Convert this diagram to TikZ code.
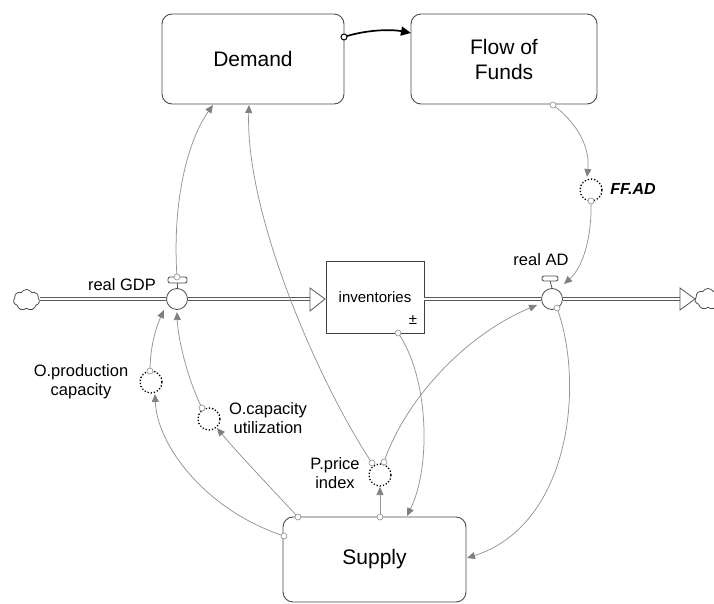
\documentclass[tikz,border=0pt]{standalone}
\usepackage{fontspec}
\setmainfont{Liberation Sans}
\usetikzlibrary{arrows.meta,shapes.symbols}

\begin{document}
\begin{tikzpicture}[x=1pt,y=-1pt,
  sector/.style={draw=black!70, line width=0.9pt, rounded corners=10pt, fill=white,
    align=center, inner sep=0pt, font=\fontsize{21}{25}\selectfont},
  stock/.style={draw=black!75, line width=0.9pt, fill=white, inner sep=0pt,
    font=\fontsize{15}{18}\selectfont},
  aux/.style={circle, draw=black, line width=1.3pt, dash pattern=on 1.3pt off 1.9pt,
    minimum size=22pt, inner sep=0pt},
  valve/.style={circle, draw=black!70, line width=0.8pt, fill=white,
    minimum size=21pt, inner sep=0pt},
  handle/.style={draw=black!70, line width=0.8pt, fill=white, rounded corners=2pt},
  pipe/.style={draw=black!65, line width=0.8pt, double=white, double distance=2.6pt},
  flowtip/.style={draw=black!65, line width=0.8pt, fill=white, line join=miter},
  sink/.style={cloud, cloud puffs=7, cloud puff arc=120, draw=black!70, line width=0.8pt,
    fill=white, minimum width=26pt, minimum height=21pt, inner sep=0pt},
  conn/.style={draw=black!42, line width=0.75pt,
    -{Triangle[length=8pt,width=7pt,color=black!50,fill=black!50]}},
  port/.style={circle, draw=black!45, line width=0.6pt, fill=white,
    minimum size=6pt, inner sep=0pt},
  lbl/.style={align=center, inner sep=0pt, font=\fontsize{16.5}{19}\selectfont},
  mainlink/.style={draw=black, line width=1.7pt,
    -{Triangle[length=10pt,width=9pt]}}
]
\useasboundingbox (0,0) rectangle (714,604);

% ---------- sector boxes ----------
\node[sector, minimum width=182pt, minimum height=90pt] (demand) at (253,59) {Demand};
\node[sector, minimum width=186pt, minimum height=90pt] (funds) at (504,59) {Flow of\\Funds};
\node[sector, minimum width=183pt, minimum height=85pt] (supply) at (374.5,559.5) {Supply};

% ---------- stock and flows ----------
\node[sink] (srcL) at (26.5,300) {};
\node[sink] (sinkR) at (708,299) {};
\node[valve] (vgdp) at (177,299) {};
\node[valve] (vad) at (552,299) {};
\node[stock, minimum width=98pt, minimum height=72pt] (inv) at (375,297) {inventories};
\node[font=\fontsize{15}{16}\selectfont, inner sep=0pt] (pm) at (413,320) {±};

\coordinate (tipA) at (325,299);
\coordinate (tipB) at (695,299);
\coordinate (baseA) at (310,299);
\coordinate (baseB) at (680,299);

\draw[pipe] (srcL.east |- vgdp.west) -- (vgdp.west);
\draw[pipe] (vgdp.east) -- (baseA);
\draw[pipe] (inv.east |- vad.west) -- (vad.west);
\draw[pipe] (vad.east) -- (baseB);
\draw[flowtip] (310,288) -- (tipA) -- (310,311) -- cycle;
\draw[flowtip] (680,288) -- (tipB) -- (680,310) -- cycle;

% valve handles
\coordinate (hgdp) at (177,277);
\coordinate (had) at (550,276);
\draw[draw=black!70, line width=0.8pt] (vgdp.north) -- (177,283);
\draw[handle] (168,277) rectangle (187,283);
\draw[draw=black!70, line width=0.8pt] (vad.north) -- (550,281);
\draw[handle] (542,276) rectangle (558,281);

\node[lbl] (lgdp) at (122,285) {real GDP};
\node[lbl] (lad) at (541,260) {real AD};

% ---------- auxiliaries ----------
\node[aux] (ffad) at (591,190) {};
\node[font=\fontsize{16}{19}\selectfont\bfseries\itshape, inner sep=0pt] (lffad) at (633,189) {FF.AD};
\node[aux] (oprod) at (151,382) {};
\node[lbl] (loprod) at (81,382) {O.production\\capacity};
\node[aux] (ocu) at (209,419) {};
\node[lbl] (locu) at (268,418) {O.capacity\\utilization};
\node[aux] (pp) at (380,475) {};
\node[lbl] (lpp) at (335,473) {P.price\\index};

% ---------- connector ports and targets ----------
\coordinate (dA) at (213,105);
\coordinate (dB) at (249,105);
\coordinate (ffOut) at (553,105);
\coordinate (ffIn) at (587,177);
\coordinate (ffBot) at (591,201);
\coordinate (adIn1) at (564,284);
\coordinate (adIn2) at (537,305);
\coordinate (adOut) at (557,308);
\coordinate (ppL) at (372,463);
\coordinate (ppR) at (384,462);
\coordinate (ppIn) at (380,487);
\coordinate (invOut) at (398,333);
\coordinate (supT0) at (298,517);
\coordinate (supT1) at (380,517);
\coordinate (supT2) at (407,516);
\coordinate (supL) at (284,536);
\coordinate (supR) at (467,558);
\coordinate (ocuIn) at (217,428);
\coordinate (ocuOut) at (202,408);
\coordinate (opIn) at (155,394);
\coordinate (opOut) at (150,371);
\coordinate (gdpIn1) at (164,310);
\coordinate (gdpIn2) at (177,312);
\coordinate (dOut) at (344,37);
\coordinate (fIn) at (411,33);

% ---------- links ----------
\draw[mainlink] (dOut) .. controls (365,30) and (390,29) .. (fIn);
\node[circle, draw=black, line width=1pt, fill=white, minimum size=6pt, inner sep=0pt] (dport) at (dOut) {};

\draw[conn] (hgdp) .. controls (172,200) and (188,140) .. (dA);
\draw[conn] (ppL) .. controls (320,385) and (245,215) .. (dB);
\draw[conn] (ppR) .. controls (405,400) and (465,335) .. (adIn2);
\draw[conn] (invOut) .. controls (428,375) and (432,465) .. (supT2);
\draw[conn] (adOut) .. controls (585,385) and (570,525) .. (supR);
\draw[conn] (supT1) -- (ppIn);
\draw[conn] (supT0) .. controls (268,485) and (235,450) .. (ocuIn);
\draw[conn] (supL) .. controls (205,510) and (157,445) .. (opIn);
\draw[conn] (opOut) .. controls (150,345) and (157,325) .. (gdpIn1);
\draw[conn] (ocuOut) .. controls (188,380) and (178,340) .. (gdpIn2);
\draw[conn] (ffOut) .. controls (580,125) and (590,150) .. (ffIn);
\draw[conn] (ffBot) .. controls (592,240) and (582,268) .. (adIn1);

% ports on top of the lines
\foreach \p in {hgdp,ppL,ppR,invOut,adOut,supT0,supT1,supL,ocuOut,opOut,ffOut,ffBot}
  \node[port] (port-\p) at (\p) {};
\end{tikzpicture}
\end{document}
